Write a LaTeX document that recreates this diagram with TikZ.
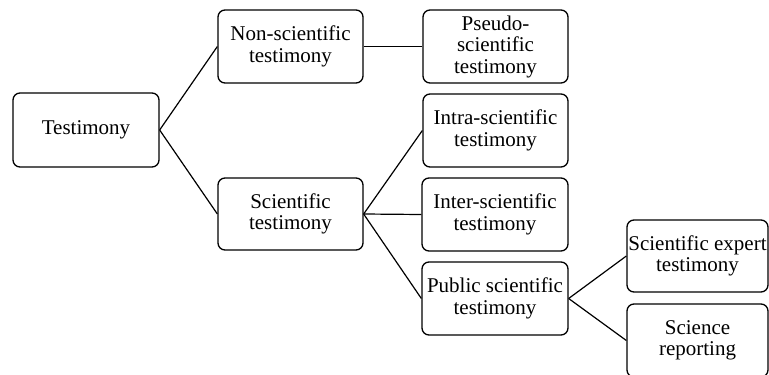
\documentclass[tikz,border=0pt]{standalone}
\usepackage{fontspec}
\setmainfont{Liberation Serif}
\begin{document}
\begin{tikzpicture}[x=1pt,y=-1pt,
  box/.style={draw=black, line width=1.3pt, rounded corners=7pt, align=center,
    inner sep=0pt, font=\fontsize{21}{21.5}\selectfont},
  link/.style={draw=black, line width=1.2pt}]
\useasboundingbox (0,0) rectangle (769,375);
\node[box, minimum width=146pt, minimum height=74pt] (t) at (86,130) {Testimony};
\node[box, minimum width=145pt, minimum height=73pt] (ns) at (290.5,46.5) {Non-scientific\\testimony};
\node[box, minimum width=145pt, minimum height=72pt] (s) at (290.5,214) {Scientific\\testimony};
\node[box, minimum width=145pt, minimum height=73pt] (ps) at (495.5,46.5) {Pseudo-\\scientific\\testimony};
\node[box, minimum width=145pt, minimum height=73pt] (intra) at (495.5,130.5) {Intra-scientific\\testimony};
\node[box, minimum width=146pt, minimum height=73pt] (inter) at (495,214.5) {Inter-scientific\\testimony};
\node[box, minimum width=146pt, minimum height=73pt] (pub) at (495,298.5) {Public scientific\\testimony};
\node[box, minimum width=141pt, minimum height=72pt] (exp) at (697.5,256) {Scientific expert\\testimony};
\node[box, minimum width=141pt, minimum height=73pt] (rep) at (697.5,340.5) {Science\\reporting};
\draw[link] (t.east) -- (ns.west);
\draw[link] (t.east) -- (s.west);
\draw[link] (ns.east) -- (ps.west);
\draw[link] (s.east) -- (intra.west);
\draw[link] (s.east) -- (inter.west);
\draw[link] (s.east) -- (pub.west);
\draw[link] (pub.east) -- (exp.west);
\draw[link] (pub.east) -- (rep.west);
\end{tikzpicture}
\end{document}
